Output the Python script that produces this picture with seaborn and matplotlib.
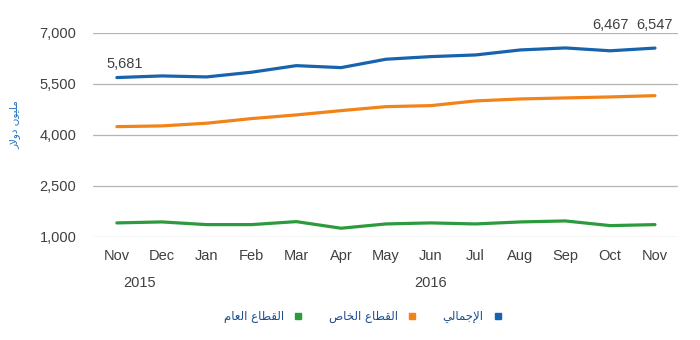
import numpy as np
import pandas as pd
import matplotlib
matplotlib.use("Agg")
import matplotlib.pyplot as plt
from matplotlib.lines import Line2D
from matplotlib.transforms import blended_transform_factory
import seaborn as sns

# ---- data -----------------------------------------------------------------
months = ["Nov", "Dec", "Jan", "Feb", "Mar", "Apr", "May",
          "Jun", "Jul", "Aug", "Sep", "Oct", "Nov"]
years = ["2015", "2016"]
year_tick_pos = [0.5, 7]

total = [5681, 5729, 5700, 5837, 6031, 5973, 6219,
         6296, 6345, 6492, 6551, 6467, 6547]
private_sector = [4240, 4261, 4340, 4476, 4584, 4710, 4827,
                  4857, 4995, 5053, 5083, 5112, 5150]
public_sector = [1413, 1442, 1363, 1363, 1451, 1257, 1383,
                 1413, 1383, 1442, 1471, 1334, 1363]

series_names = ["الإجمالي", "القطاع الخاص", "القطاع العام"]
series_values = [total, private_sector, public_sector]
series_colors = ["#1863ad", "#f28318", "#2c9b3c"]
y_label = "مليون دولار"
y_ticks = [1000, 2500, 4000, 5500, 7000]

# ---- minimal Arabic shaping (contextual forms + lam-alef) -------------------
FORMS = {
    "ا": ("\uFE8D", "\uFE8E", None, None),
    "إ": ("\uFE87", "\uFE88", None, None),
    "ج": ("\uFE9D", "\uFE9E", "\uFE9F", "\uFEA0"),
    "خ": ("\uFEA5", "\uFEA6", "\uFEA7", "\uFEA8"),
    "د": ("\uFEA9", "\uFEAA", None, None),
    "ر": ("\uFEAD", "\uFEAE", None, None),
    "ص": ("\uFEB9", "\uFEBA", "\uFEBB", "\uFEBC"),
    "ط": ("\uFEC1", "\uFEC2", "\uFEC3", "\uFEC4"),
    "ع": ("\uFEC9", "\uFECA", "\uFECB", "\uFECC"),
    "ق": ("\uFED5", "\uFED6", "\uFED7", "\uFED8"),
    "ل": ("\uFEDD", "\uFEDE", "\uFEDF", "\uFEE0"),
    "م": ("\uFEE1", "\uFEE2", "\uFEE3", "\uFEE4"),
    "ن": ("\uFEE5", "\uFEE6", "\uFEE7", "\uFEE8"),
    "و": ("\uFEED", "\uFEEE", None, None),
    "ي": ("\uFEF1", "\uFEF2", "\uFEF3", "\uFEF4"),
}
LAM_ALEF = {"ا": ("\uFEFB", "\uFEFC"), "إ": ("\uFEF9", "\uFEFA")}


def shape(text):
    out = []
    i = 0
    prev_joins = False
    while i < len(text):
        c = text[i]
        if c not in FORMS:
            out.append(c)
            prev_joins = False
            i += 1
            continue
        nxt = text[i + 1] if i + 1 < len(text) else None
        if c == "ل" and nxt in LAM_ALEF:
            out.append(LAM_ALEF[nxt][1 if prev_joins else 0])
            prev_joins = False
            i += 2
            continue
        iso, fin, ini, med = FORMS[c]
        can_fwd = ini is not None and nxt in FORMS
        if prev_joins and can_fwd:
            g = med
        elif prev_joins:
            g = fin
        elif can_fwd:
            g = ini
        else:
            g = iso
        out.append(g)
        prev_joins = can_fwd
        i += 1
    return "".join(reversed(out))


# ---- long-form table ------------------------------------------------------
rows = []
for name, vals in zip(series_names, series_values):
    for idx, v in enumerate(vals):
        rows.append({"idx": idx, "value": v, "series": name})
df = pd.DataFrame(rows)

sns.set_style("white")
plt.rcParams["font.family"] = ["Liberation Sans", "DejaVu Sans"]

fig = plt.figure(figsize=(7, 3.4), dpi=100)
ax = fig.add_axes([0.133, 0.303, 0.836, 0.601])

sns.lineplot(data=df, x="idx", y="value", hue="series",
             hue_order=series_names,
             palette=dict(zip(series_names, series_colors)),
             linewidth=2.3, legend=False, ax=ax,
             solid_capstyle="round", solid_joinstyle="round")

ax.set_xlim(-0.53, 12.52)
ax.set_ylim(min(y_ticks), max(y_ticks))
ax.set_yticks(y_ticks)
ax.set_yticklabels([f"{t:,}" for t in y_ticks])
ax.set_xticks(range(len(months)))
ax.set_xticklabels(months)
ax.tick_params(axis="both", length=0, colors="#404040", labelsize=10.5)
ax.tick_params(axis="x", pad=9)
ax.tick_params(axis="y", pad=12)
for s in ax.spines.values():
    s.set_visible(False)
ax.grid(axis="y", color="#b4b4b4", linewidth=0.9)
ax.set_axisbelow(True)
ax.set_xlabel("")

ax.set_ylabel(shape(y_label), family=["DejaVu Sans"], color="#1f6fc0",
              fontsize=7.5)
ax.yaxis.set_label_coords(-0.124, 0.55)

# year labels under the month ticks
trans = blended_transform_factory(ax.transData, ax.transAxes)
for yr, pos in zip(years, year_tick_pos):
    ax.text(pos, -0.225, yr, transform=trans, ha="center", va="center",
            color="#404040", fontsize=10.5)

# value labels on the total series
ax.annotate(f"{total[0]:,}", xy=(0, total[0]), xytext=(8, 14),
            textcoords="offset pixels", ha="center", va="center",
            color="#404040", fontsize=10.5, annotation_clip=False)
for i in (11, 12):
    ax.annotate(f"{total[i]:,}", xy=(i, total[i]), xytext=(i, 1.038),
                textcoords=("data", "axes fraction"), ha="center",
                va="center", color="#404040", fontsize=10.5,
                annotation_clip=False)

# legend, right-to-left order
handles = [Line2D([], [], marker="s", linestyle="none", color=c,
                  markersize=4) for c in series_colors]
labels = [shape(n) for n in series_names]
ax.legend(handles[::-1], labels[::-1], loc="center",
          bbox_to_anchor=(0.518, 0.07), bbox_transform=fig.transFigure,
          ncol=3, frameon=False, markerfirst=False, handlelength=0.6,
          handletextpad=0.9, columnspacing=2.3,
          prop={"family": ["DejaVu Sans"], "size": 8.5},
          labelcolor="#1f4e8c")

fig.savefig("out.png", dpi=100)
